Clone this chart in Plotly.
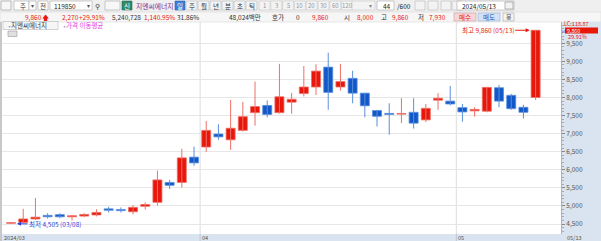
import plotly.graph_objects as go

W, H = 601, 241

# ---------------- data ----------------
dates = ["03/08", "03/11", "03/12", "03/13", "03/14", "03/15", "03/18", "03/19", "03/20", "03/21",
         "03/22", "03/25", "03/26", "03/27", "03/28", "03/29",
         "04/01", "04/02", "04/03", "04/04", "04/05", "04/08", "04/09", "04/11", "04/12", "04/15",
         "04/16", "04/17", "04/18", "04/19", "04/22", "04/23", "04/24", "04/25", "04/26", "04/29", "04/30",
         "05/02", "05/03", "05/07", "05/08", "05/09", "05/10", "05/13"]
opens = [4520, 4545, 4640, 4740, 4760, 4700, 4720, 4750, 4920, 4900, 4840, 4990, 5100, 5650, 5650, 6350,
         6630, 6990, 6830, 7090, 7580, 7780, 7580, 7870, 8110, 8290, 8840, 8290, 8530, 8120, 7640, 7560,
         7540, 7590, 7380, 7925, 7900, 7720, 7630, 7620, 8270, 8060, 7730, 8000]
highs = [4545, 4920, 5220, 4800, 4800, 4740, 4800, 4910, 4980, 4960, 5020, 5100, 5980, 5720, 6580, 6640,
         7350, 7260, 7930, 7880, 8440, 7920, 8930, 8130, 8870, 8920, 9240, 8930, 8740, 8130, 7660, 7840,
         7980, 7980, 7820, 8120, 8320, 7820, 7730, 8290, 8350, 8100, 7800, 9860]
lows = [4505, 4530, 4610, 4650, 4660, 4600, 4690, 4710, 4820, 4820, 4770, 4900, 5010, 5470, 5510, 6110,
        6500, 6830, 6550, 7060, 7220, 7450, 7560, 7550, 8030, 8070, 7660, 8190, 7840, 7450, 7200, 6970,
        7290, 7140, 7320, 7660, 7780, 7330, 7470, 7590, 7730, 7660, 7420, 7930]
closes = [4535, 4640, 4690, 4700, 4700, 4730, 4765, 4820, 4880, 4870, 4960, 5040, 5720, 5570, 6330, 6190,
          7090, 6910, 7150, 7470, 7750, 7530, 8020, 7950, 8290, 8730, 8140, 8440, 8120, 7770, 7480, 7530,
          7555, 7290, 7700, 7980, 7820, 7600, 7670, 8280, 7900, 7690, 7590, 9860]
y_ticks = [4500, 5000, 5500, 6000, 6500, 7000, 7500, 8000, 8500, 9000, 9500]
month_labels = ["2024/03", "04", "05"]
month_first_idx = [0, 16, 37]

stock_name = "지엔씨에너지"
stock_code = "119850"
last_price = 9860
change = 2270
change_pct = "+29.91%"
volume = "5,240,728"
vol_ratio = "1,140.95%"
turnover = "31.86%"
amount = "48,024백만"
open_p, high_p, low_p = 8000, 9860, 7930

RED = "#e8170b"
BLUE = "#1358c9"
RED_WICK = "#ef6f66"
BLUE_WICK = "#5a8fdc"
FONT = "Noto Sans CJK KR, Dotum, sans-serif"

idx = list(range(len(dates)))
MIN_BODY = 18  # keeps a flat (open == close) candle visible as a thin bar

fig = go.Figure()
for up, col, wcol in [(True, RED, RED_WICK), (False, BLUE, BLUE_WICK)]:
    sel = [i for i in idx if (closes[i] >= opens[i]) == up]
    wx, wy = [], []
    for i in sel:
        wx += [i, i, None]
        wy += [lows[i], highs[i], None]
    fig.add_trace(go.Scatter(x=wx, y=wy, mode="lines", line=dict(color=wcol, width=1),
                             showlegend=False, hoverinfo="skip"))
    base = [min(opens[i], closes[i]) for i in sel]
    hgt = [max(abs(closes[i] - opens[i]), MIN_BODY) for i in sel]
    fig.add_trace(go.Bar(x=sel, y=hgt, base=base, width=0.74, marker=dict(color=col, line=dict(color=wcol, width=0.8)),
                         showlegend=False, hoverinfo="skip"))

def px(p):
    return p / W

def py(p):
    return 1 - p / H

shapes = []
annos = []

def rect(x0, y0, x1, y1, fill, line=None, lw=1):
    shapes.append(dict(type="rect", xref="paper", yref="paper", x0=px(x0), x1=px(x1), y0=py(y0), y1=py(y1),
                       fillcolor=fill, line=dict(color=line or fill, width=lw if line else 0), layer="below"))

def text(x, y, s, color="#333", size=6.5, anchor="left", pad=1):
    annos.append(dict(xref="paper", yref="paper", x=px(x), y=py(y), text=s,
                      showarrow=False, xanchor=anchor, yanchor="middle", borderpad=pad,
                      font=dict(family=FONT, size=size, color=color)))

# background panels
rect(0, 0, 601, 22, "#efefef")
rect(0, 12, 601, 22, "#f6f6f6", "#d0d0d0", 0.5)
rect(561, 22, 601, 241, "#d9e4f0")
rect(0, 234, 601, 241, "#d9e4f0")
rect(0, 22, 2, 241, "#c8c8c8")

# ---- toolbar row 1 ----
rect(1, 1, 11, 10, "#f7f7f7", "#999", 0.6)
rect(14, 1, 29, 10, "#ffffff", "#aaa", 0.6)
text(18, 5.5, "주", "#333")
rect(29, 1, 36, 10, "#ffffff", "#aaa", 0.6)
text(32.5, 5.5, "▾", "#555", 6, "center")
rect(38, 1, 48, 10, "#ffffff", "#aaa", 0.6)
text(43, 5.5, "전", "#333", 6.5, "center")
rect(50, 1, 92, 10, "#ffffff", "#aaa", 0.6)
text(52, 5.5, stock_code, "#222")
text(88, 5.5, "▾", "#555", 6, "center")
text(97, 5.5, "⚲", "#444", 7, "center")
rect(105, 1, 120, 10, "#f7f7f7", "#aaa", 0.6)
rect(122, 1, 132, 10, "#2e8a6e", "#1e6a50", 0.6)
text(127, 5.5, "신", "#ffffff", 6.5, "center")
text(134, 5.5, stock_name, "#8a2a8a", 6.8)
rect(175, 1, 185, 10, "#3a7fd4", "#2a5fb0", 0.6)
text(180, 5.5, "일", "#ffffff", 6.5, "center")
for k, s in enumerate(["주", "월", "년", "분", "초", "틱"]):
    x0 = 186 + k * 12
    rect(x0, 1, x0 + 11, 10, "#f3f3f3", "#b8b8b8", 0.6)
    text(x0 + 5.5, 5.5, s, "#333", 6.5, "center")
for k, s in enumerate(["1", "3", "5", "10", "20", "30", "60", "120"]):
    x0 = 259 + k * 11.8
    rect(x0, 1, x0 + 11, 10, "#f3f3f3", "#c8c8c8", 0.6)
    text(x0 + 5.5, 5.5, s, "#999", 6, "center")
rect(352, 1, 375, 10, "#f3f3f3", "#c8c8c8", 0.6)
text(370, 5.5, "▾", "#888", 6, "center")
rect(377, 1, 394, 10, "#ffffff", "#aaa", 0.6)
text(393, 5.5, "44", "#222", 6.5, "right")
text(395, 5.5, "/600", "#222")
for x0 in [415, 428, 441, 452]:
    rect(x0, 1, x0 + 10, 10, "#f3f3f3", "#b8b8b8", 0.6)
rect(457, 1, 514, 10, "#ffffff", "#aaa", 0.6)
text(460, 5.5, "2024/05/13", "#222")
rect(505, 2, 513, 9, "#f3f3f3", "#888", 0.6)

# ---- toolbar row 2 ----
text(23, 17, "{:,}".format(last_price), RED)
text(40, 17, "🡅", RED, 6.5)
text(60, 17, "{:,}".format(change), RED)
text(77, 17, change_pct, RED)
text(110, 17, volume, "#333")
text(142, 17, vol_ratio, RED)
text(175, 17, turnover, "#333")
text(227, 17, amount, "#333")
text(270, 17, "호가", "#333")
text(294, 17, "0", "#333")
text(310, 17, "{:,}".format(last_price), RED)
text(342, 17, "시", "#333")
text(355, 17, "{:,}".format(open_p), RED)
text(379, 17, "고", "#333")
text(390, 17, "{:,}".format(high_p), RED)
text(416, 17, "저", "#333")
text(427, 17, "{:,}".format(low_p), RED)
rect(454, 13, 476, 21, "#f6d6d6", "#c9a0a0", 0.6)
text(465, 17, "매수", RED, 6.5, "center")
rect(478, 13, 500, 21, "#d3e2f6", "#9ab0cc", 0.6)
text(489, 17, "매도", "#1c54b8", 6.5, "center")
rect(503, 13, 514, 21, "#f3f3f3", "#aaa", 0.6)
text(508.5, 17, "몽", "#555", 6, "center")

# ---- chart legend ----
rect(3, 21.5, 58, 29.5, "#f6f6f6", "#b8b8b8", 0.6)
text(5, 25.5, "▪", "#999", 5)
text(9, 25.5, stock_name, "#333")
text(60, 25.5, "▪", "#999", 5)
text(64, 25.5, "가격 이동평균", "#e23ce2")
rect(8, 31, 17, 36.5, "#e0e0e0", "#999", 0.6)

# ---- right panel labels ----
text(563, 24.0, "LC:118.87", RED, 5.5, pad=0)
rect(565, 27.5, 598, 33.5, RED)
text(566, 30.6, "{:,}".format(last_price), "#ffffff", 5.3, pad=0)
text(561.3, 30.6, "H", "#2a5fd0", 4, pad=0)
text(567, 37.3, "29.91%", RED, 5.5, pad=0)

# ---- bottom axis labels ----
text(3, 237.6, month_labels[0], "#555", 5.6, pad=0)
for lab, i0 in zip(month_labels[1:], month_first_idx[1:]):
    annos.append(dict(xref="x", yref="paper", x=i0 - 0.5, y=py(237.6), text=lab, showarrow=False,
                      xanchor="left", yanchor="middle", xshift=1, borderpad=0,
                      font=dict(family=FONT, size=5.6, color="#555")))
    shapes.append(dict(type="line", xref="x", yref="paper", x0=i0 - 0.5, x1=i0 - 0.5,
                       y0=py(234), y1=py(22), line=dict(color="#dddddd", width=1), layer="below"))
    shapes.append(dict(type="line", xref="x", yref="paper", x0=i0 - 0.5, x1=i0 - 0.5,
                       y0=py(241), y1=py(234), line=dict(color="#aab4c0", width=0.6)))
text(566, 237.6, dates[-1], "#555", 5.6, pad=0)

# ---- high / low markers ----
hi_i = max(idx, key=lambda i: highs[i])
lo_i = min(idx, key=lambda i: lows[i])
annos.append(dict(xref="x", yref="y", x=hi_i, y=highs[hi_i], text="최고 {:,} ({})".format(highs[hi_i], dates[hi_i]),
                  showarrow=True, ax=-48, ay=0, arrowhead=2, arrowsize=0.8, arrowwidth=1, arrowcolor=RED,
                  standoff=6, font=dict(family=FONT, size=6.5, color=RED)))
annos.append(dict(xref="x", yref="y", x=lo_i, y=lows[lo_i], text="최저 {:,} ({})".format(lows[lo_i], dates[lo_i]),
                  showarrow=True, ax=44, ay=0, arrowhead=2, arrowsize=0.8, arrowwidth=1, arrowcolor="#2a44d6",
                  standoff=6, font=dict(family=FONT, size=6.5, color="#2a44d6")))

fig.update_layout(
    width=W, height=H, margin=dict(l=0, r=0, t=0, b=0),
    paper_bgcolor="#ffffff", plot_bgcolor="#ffffff",
    barmode="overlay",
    shapes=shapes, annotations=annos,
    xaxis=dict(domain=[px(2), px(561)], range=[-0.74, 45.08], showgrid=False, zeroline=False,
               showticklabels=False, fixedrange=True),
    yaxis=dict(domain=[py(234), py(22)], range=[4224, 10088], side="right", tickvals=y_ticks,
               tickformat=",d", ticks="outside", ticklen=3, tickcolor="#888",
               tickfont=dict(family=FONT, size=6.5, color="#555"), showgrid=True, gridcolor="#e6e6e6",
               gridwidth=1, zeroline=False, showline=True, linecolor="#aab4c0", linewidth=1,
               minor=dict(dtick=100, ticks="outside", ticklen=1.5, tickcolor="#aaa")),
    font=dict(family=FONT),
)

fig.write_html("out.html")
